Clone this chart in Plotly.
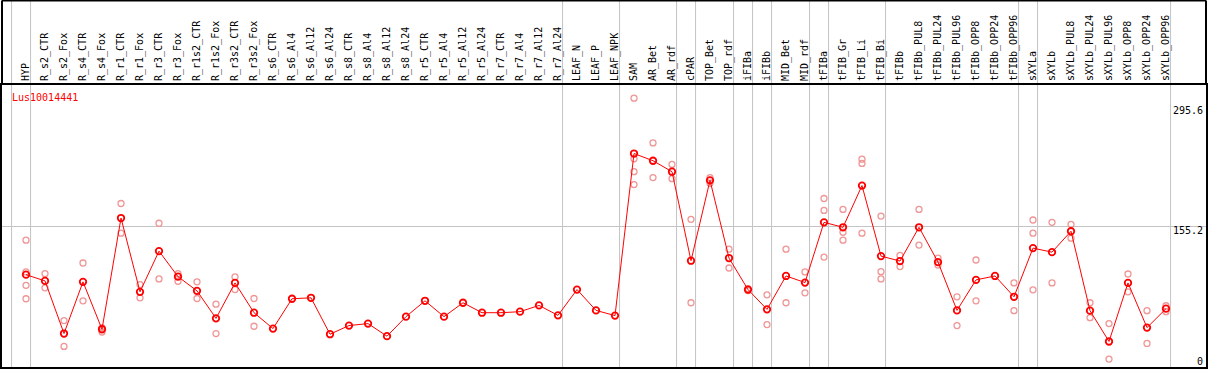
import plotly.graph_objects as go

categories = ["HYP", "R_s2_CTR", "R_s2_Fox", "R_s4_CTR", "R_s4_Fox", "R_r1_CTR", "R_r1_Fox",
              "R_r3_CTR", "R_r3_Fox", "R_r1s2_CTR", "R_r1s2_Fox", "R_r3s2_CTR", "R_r3s2_Fox",
              "R_s6_CTR", "R_s6_Al4", "R_s6_Al12", "R_s6_Al24", "R_s8_CTR", "R_s8_Al4", "R_s8_Al12",
              "R_s8_Al24", "R_r5_CTR", "R_r5_Al4", "R_r5_Al12", "R_r5_Al24", "R_r7_CTR", "R_r7_Al4",
              "R_r7_Al12", "R_r7_Al24", "LEAF_N", "LEAF_P", "LEAF_NPK", "SAM", "AR_Bet", "AR_rdf",
              "cPAR", "TOP_Bet", "TOP_rdf", "iFIBa", "iFIBb", "MID_Bet", "MID_rdf", "tFIBa", "tFIB_Gr",
              "tFIB_Li", "tFIB_Bi", "tFIBb", "tFIBb_PUL8", "tFIBb_PUL24", "tFIBb_PUL96", "tFIBb_OPP8",
              "tFIBb_OPP24", "tFIBb_OPP96", "sXYLa", "sXYLb", "sXYLb_PUL8", "sXYLb_PUL24",
              "sXYLb_PUL96", "sXYLb_OPP8", "sXYLb_OPP24", "sXYLb_OPP96"]

means = [98.5, 91.2, 29.8, 90.1, 34.8, 164.6, 78.5, 126.0, 96.2, 79.6, 47.5, 88.9, 54.1,
         35.6, 70.4, 71.5, 29.0, 39.1, 41.4, 26.7, 49.5, 68.0, 49.5, 65.7, 54.1, 54.1, 55.3,
         62.6, 51.0, 81.1, 56.8, 50.7, 239.9, 231.5, 218.7, 114.8, 208.6, 117.9, 81.1, 58.0,
         97.0, 89.3, 159.6, 153.8, 202.5, 120.2, 114.4, 153.8, 113.2, 56.8, 92.4, 97.0, 72.7,
         129.5, 124.8, 149.2, 56.5, 20.5, 88.9, 36.7, 58.8]

rep1 = ([138.8, 99.7, 44.9, 112.1, 36.7, 181.6, 86.9, 158.5, 99.7, 90.1, 64.1, 95.9, 70.7]
        + [None] * 19
        + [304.5, 252.3, 227.2, 163.1, 211.8, 128.3, 82.3, 75.0, 128.3, 101.7, 187.4, 174.7,
           233.3, 166.9, 121.0, 174.7, 117.9, 72.7, 115.6, None, 88.9, 162.3, 159.6, 157.3,
           65.7, 41.4, 99.3, 56.5, 62.2])
rep2 = ([101.7, 83.1, 14.7, 68.0, 31.6, 146.9, 71.5, 93.5, 90.8, 70.7, 29.8, 81.1, 38.3]
        + [None] * 19
        + [233.8, 211.8, 210.6, 65.7, 205.2, 106.3, 79.9, 40.2, 65.7, 77.3, 173.5, 148.0,
           228.4, 102.0, 108.0, 133.0, 109.8, 39.1, 68.0, None, 56.5, 146.9, 88.9, 141.1,
           48.3, 0.0, 78.5, 18.2, 55.3])
rep3 = ([86.1] + [None] * 31 + [218.7] + [None] * 9 + [119.0, 138.8, 146.9, 93.5]
        + [None] * 7 + [80.8] + [None] * 7)
rep4 = [70.4] + [None] * 31 + [203.7] + [None] * 28

# separators fall just after these category indices
group_ends = [-1, 0, 28, 31, 34, 35, 37, 38, 39, 41, 42, 45, 52, 53, 60]

axis_labels = [295.6, 155.2, 0]
gene_name = "Lus10014441"

FONT = "DejaVu Sans Mono"
W, H = 1209, 370
L, R, T, B = 2, 3, 85, 1
plot_h = H - T - B
xi = list(range(len(categories)))

fig = go.Figure()
for reps in (rep1, rep2, rep3, rep4):
    fig.add_trace(go.Scatter(
        x=xi, y=reps, mode="markers",
        marker=dict(symbol="circle-open", size=6, color="#F09696", line=dict(width=1.3)),
        hoverinfo="skip", showlegend=False))
fig.add_trace(go.Scatter(
    x=xi, y=means, mode="lines+markers",
    line=dict(color="#FF0000", width=1),
    marker=dict(symbol="circle-open", size=6.5, color="#FF0000", line=dict(width=1.8)),
    showlegend=False))

top_paper = 1 + T / plot_h
for g in group_ends:
    fig.add_shape(type="line", xref="x", yref="paper", x0=g + 0.24, x1=g + 0.24,
                  y0=0, y1=top_paper, line=dict(color="#C4C4C4", width=1), layer="below")

# outer frame around label band
fig.add_shape(type="line", xref="paper", yref="paper", x0=0, x1=1, y0=top_paper, y1=top_paper,
              line=dict(color="black", width=2))
fig.add_shape(type="line", xref="paper", yref="paper", x0=0, x1=0, y0=1, y1=top_paper,
              line=dict(color="black", width=2))
fig.add_shape(type="line", xref="paper", yref="paper", x0=1, x1=1, y0=1, y1=top_paper,
              line=dict(color="black", width=2))

for v in axis_labels:
    fig.add_annotation(x=1, xref="paper", xanchor="right", xshift=-1, y=v, yref="y",
                       yanchor="top", yshift=3 if v else 5, text=f"{v:g}", showarrow=False,
                       font=dict(family=FONT, size=10, color="black"))

fig.add_annotation(x=(10 - L) / (W - L - R), xref="paper", xanchor="left",
                   y=(H - B - 97.5) / plot_h, yref="paper", yanchor="middle",
                   text=gene_name, showarrow=False,
                   font=dict(family=FONT, size=10, color="#FF0000"))

px_per = 19.0
x0 = (L - 26) / px_per
x1 = x0 + (W - L - R) / px_per
fig.update_xaxes(range=[x0, x1], side="top", tickmode="array", tickvals=xi,
                 ticktext=categories, tickangle=-90, ticks="", showgrid=False,
                 zeroline=False, showline=True, linecolor="black", linewidth=2, mirror=True,
                 tickfont=dict(family=FONT, size=10, color="black"))
fig.update_yaxes(range=[-9.27, 319.9], tickmode="array", tickvals=[155.2],
                 showticklabels=False, showgrid=True, gridcolor="#C4C4C4", gridwidth=1,
                 zeroline=False, showline=True, linecolor="black", linewidth=2, mirror=True)
fig.update_layout(width=W, height=H, margin=dict(l=L, r=R, t=T, b=B, pad=0),
                  plot_bgcolor="white", paper_bgcolor="white")
fig.write_html("out.html", config={"displayModeBar": False},
               post_script="document.body.style.margin='0px';document.body.style.overflow='hidden';")
